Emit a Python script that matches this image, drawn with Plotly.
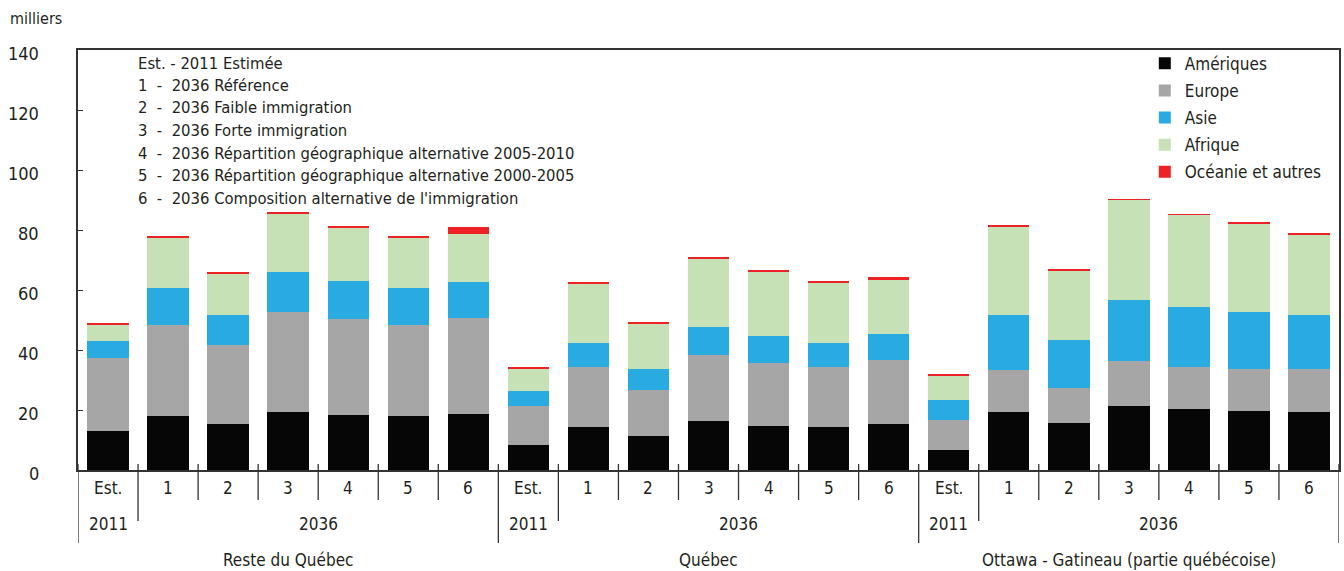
import plotly.graph_objects as go

# ---- data ----
regions = ["Reste du Québec", "Québec", "Ottawa - Gatineau (partie québécoise)"]
scenarios = ["Est.", "1", "2", "3", "4", "5", "6"]
years = ["2011", "2036"]
series_names = ["Amériques", "Europe", "Asie", "Afrique", "Océanie et autres"]
y_ticks = [0, 20, 40, 60, 80, 100, 120, 140]

ameriques = [12.9, 18.1, 15.4, 19.4, 18.4, 18.1, 18.8,
             8.2, 14.2, 11.2, 16.2, 14.8, 14.2, 15.5,
             6.8, 19.2, 15.8, 21.5, 20.5, 19.8, 19.2]
europe = [24.6, 30.4, 26.4, 33.4, 32.1, 30.4, 32.0,
          13.3, 20.0, 15.6, 22.0, 21.0, 20.0, 21.3,
          9.8, 14.0, 11.7, 15.0, 14.0, 14.0, 14.6]
asie = [5.6, 12.3, 10.0, 13.3, 12.6, 12.3, 12.0,
        5.0, 8.3, 7.0, 9.6, 9.0, 8.3, 8.7,
        6.9, 18.6, 15.7, 20.3, 19.7, 19.0, 18.0]
afrique = [5.4, 16.7, 13.7, 19.3, 17.7, 16.7, 16.0,
           7.4, 19.8, 15.1, 22.8, 21.5, 20.1, 18.0,
           8.1, 29.5, 23.4, 33.2, 30.8, 29.5, 26.8]
oceanie = [0.3, 0.4, 0.4, 0.4, 0.3, 0.4, 2.1,
           0.3, 0.3, 0.3, 0.3, 0.3, 0.3, 0.7,
           0.3, 0.3, 0.3, 0.3, 0.3, 0.3, 0.3]

notes = ["Est. - 2011 Estimée",
         "1  -  2036 Référence",
         "2  -  2036 Faible immigration",
         "3  -  2036 Forte immigration",
         "4  -  2036 Répartition géographique alternative 2005-2010",
         "5  -  2036 Répartition géographique alternative 2000-2005",
         "6  -  2036 Composition alternative de l'immigration"]

colors = ["#060606", "#a6a6a6", "#29abe2", "#c5e1b5", "#ee2124"]
values = [ameriques, europe, asie, afrique, oceanie]

FONT = "DejaVu Sans Condensed, Liberation Sans Narrow, sans-serif"
TXT = "#231f20"

n_s = len(scenarios)
xs = list(range(len(regions) * n_s))

fig = go.Figure()
for name, col, vals in zip(series_names, colors, values):
    fig.add_trace(go.Bar(x=xs, y=vals, name=name, marker_color=col,
                         marker_line_width=0, width=0.69, legendgroup=name))

W_PLOT = 1263.0
H_PLOT = 420.0
def py(px_below_axis):
    return -px_below_axis / H_PLOT

annotations = []
shapes = []
for g, reg in enumerate(regions):
    base = g * n_s
    for i, s in enumerate(scenarios):
        annotations.append(dict(x=base + i, y=py(18), xref="x", yref="paper",
                                text=s, showarrow=False, yanchor="middle",
                                font=dict(size=17)))
    annotations.append(dict(x=base, y=py(54), xref="x", yref="paper",
                            text=years[0], showarrow=False, yanchor="middle",
                            font=dict(size=17)))
    annotations.append(dict(x=base + (1 + n_s - 1) / 2, y=py(54), xref="x", yref="paper",
                            text=years[1], showarrow=False, yanchor="middle",
                            font=dict(size=17)))
    annotations.append(dict(x=base + (n_s - 1) / 2, y=py(90), xref="x", yref="paper",
                            text=reg, showarrow=False, yanchor="middle",
                            font=dict(size=17)))
    shapes.append(dict(type="line", xref="x", yref="paper", x0=base - 0.5, x1=base - 0.5,
                       y0=py(-6), y1=py(73), line=dict(color="#333", width=1.3)))
    shapes.append(dict(type="line", xref="x", yref="paper", x0=base + 0.5, x1=base + 0.5,
                       y0=py(-6), y1=py(51), line=dict(color="#333", width=1.3)))
    for i in range(2, n_s):
        shapes.append(dict(type="line", xref="x", yref="paper", x0=base + i - 0.5, x1=base + i - 0.5,
                           y0=py(-6), y1=py(30), line=dict(color="#333", width=1.3)))
last = len(xs) - 0.5
shapes.append(dict(type="line", xref="x", yref="paper", x0=last, x1=last,
                   y0=py(-6), y1=py(73), line=dict(color="#333", width=1.3)))

# y tick labels
for v in y_ticks:
    annotations.append(dict(x=-37 / W_PLOT, y=v, xref="paper", yref="y", text=str(v),
                            showarrow=False, xanchor="right", yanchor="middle",
                            yshift=-3, font=dict(size=18)))

# notes block
for k, t in enumerate(notes):
    annotations.append(dict(x=(136 - 78) / W_PLOT, y=1 - (13 + 22.5 * k) / H_PLOT,
                            xref="paper", yref="paper", text=t, showarrow=False,
                            xanchor="left", yanchor="middle", font=dict(size=16.5)))

annotations.append(dict(x=-70 / W_PLOT, y=1 + 32 / H_PLOT, xref="paper", yref="paper",
                        text="milliers", showarrow=False, xanchor="left", yanchor="middle",
                        font=dict(size=16)))

fig.update_layout(
    barmode="stack",
    width=1344, height=571,
    margin=dict(l=78, r=3, t=50, b=101),
    paper_bgcolor="white", plot_bgcolor="white",
    font=dict(family=FONT, color=TXT, size=17),
    annotations=annotations,
    shapes=shapes,
    showlegend=True,
    legend=dict(x=0.846, y=1.01, xanchor="left", yanchor="top",
                font=dict(size=17), tracegroupgap=2, bgcolor="rgba(0,0,0,0)",
                traceorder="grouped"),
    xaxis=dict(range=[-0.5, last], showticklabels=False, ticks="",
               showgrid=False, zeroline=False, showline=True, mirror=True,
               linecolor="#333", linewidth=2),
    yaxis=dict(range=[0, 140], tickvals=y_ticks, ticks="inside", ticklen=5,
               tickcolor="#333", showticklabels=False, showgrid=False,
               zeroline=False, showline=True, mirror=True,
               linecolor="#333", linewidth=2),
)

fig.write_html("out.html", config={"displayModeBar": False},
               post_script="document.body.style.margin='0';")
